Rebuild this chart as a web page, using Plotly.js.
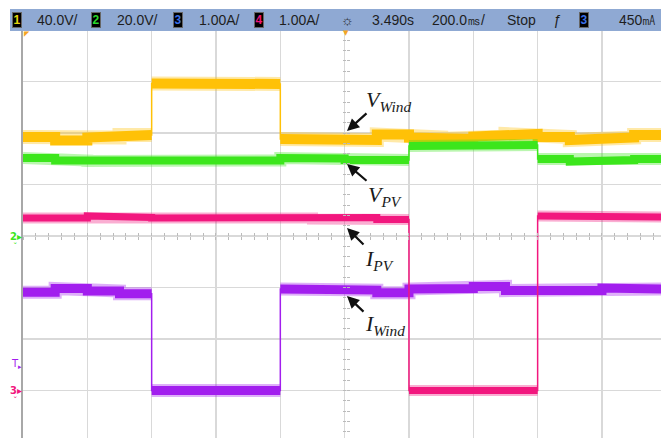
<!DOCTYPE html>
<html>
<head>
<meta charset="utf-8">
<script src="https://cdn.plot.ly/plotly-3.0.1.min.js"></script>
<style>html,body{margin:0;padding:0;background:#fff;}#plot{width:661px;height:438px;}</style>
</head>
<body>
<div id="plot"></div>
<script>
// ---- data (read from the oscilloscope screen) ----
// segment boundaries, seconds (200 ms/div, centre = 3.490 s)
const TIME_S = [2.49, 2.59, 2.69, 2.79, 2.89, 2.99, 3.09, 3.19, 3.29, 3.39, 3.49,
                3.59, 3.69, 3.79, 3.89, 3.99, 4.09, 4.19, 4.29, 4.39, 4.49];
// channel 1 : V_Wind (V)
const V_WIND = [76.9, 74.2, 76.5, 78.4, 118.4, 118.4, 118.1, 118.1, 75.3, 74.6,
                74.6, 78.8, 76.5, 75.3, 77.3, 79.2, 76.9, 74.6, 76.5, 78.4];
// channel 2 : V_PV (V)
const V_PV = [30.3, 29.3, 29.1, 29.7, 29.5, 29.5, 29.3, 29.3, 30.3, 30.1,
              29.5, 29.5, 35.0, 34.8, 35.0, 35.3, 29.9, 28.9, 29.5, 29.9];
// channel 3 : I_Wind (A)
const I_WIND = [1.91, 1.98, 1.93, 1.88, 0, 0, 0, 0, 1.97, 1.99,
                1.95, 1.90, 1.97, 1.98, 2.02, 1.94, 1.93, 1.94, 1.99, 1.97];
// channel 4 : I_PV (A)
const I_PV = [3.35, 3.35, 3.39, 3.36, 3.35, 3.35, 3.35, 3.35, 3.35, 3.33,
              3.36, 3.32, 0, 0, 0, 0, 3.39, 3.38, 3.39, 3.37];
// channel settings
const CH_SCALE = [40, 20, 1, 1];        // units per division
const CH_GROUND = [0, 0, -3, -3];       // ground level, divisions from centre
const CH_COLOR = ['#FFC107', '#3CE61C', '#A21EEE', '#F2177E'];
const CH_WIDTH = [10, 8, 9, 7];
const HEADER = ['40.0V/', '20.0V/', '1.00A/', '1.00A/', '3.490s', '200.0\u33B3/', 'Stop', '450\u3383'];

// ---- build ----
const PX = px => (px - 23) / 638;
const PY = py => (438 - py) / 408;
const series = [V_WIND, V_PV, I_WIND, I_PV];
const traces = [];
series.forEach((vals, c) => {
  const d = vals.map(v => CH_GROUND[c] + v / CH_SCALE[c]);
  // thin stepped line (transitions)
  traces.push({x: TIME_S, y: d.concat([d[d.length - 1]]), mode: 'lines',
    line: {shape: 'hv', color: CH_COLOR[c], width: 1.5}, hoverinfo: 'skip', showlegend: false});
  // thick bands
  const xs = [], ys = [];
  for (let i = 0; i < d.length; i++) {
    xs.push(TIME_S[i], TIME_S[i + 1]); ys.push(d[i], d[i]);
    if (i < d.length - 1 && Math.abs(d[i + 1] - d[i]) > 0.15) { xs.push(null); ys.push(null); }
  }
  traces.push({x: xs, y: ys, mode: 'lines', opacity: 0.35,
    line: {color: CH_COLOR[c], width: CH_WIDTH[c] + 4}, hoverinfo: 'skip', showlegend: false});
  traces.push({x: xs, y: ys, mode: 'lines',
    line: {color: CH_COLOR[c], width: CH_WIDTH[c]}, hoverinfo: 'skip', showlegend: false});
});

const XR = [2.49, 2.49 + 638 / 64.33 * 0.2];
const YR = [-(438 - 236) / 51.5, 4];
const grid = '#d9d9d9';
const tickAx = (extra) => Object.assign({showgrid: false, zeroline: false, showline: false,
  showticklabels: false, ticklen: 3, tickwidth: 1, tickcolor: '#bbbbbb', fixedrange: true}, extra);

const ann = [];
// header
const txt = (x, s, anchor) => ann.push({xref: 'paper', yref: 'paper', x: PX(x), y: PY(20), text: s,
  showarrow: false, xanchor: anchor || 'left', yanchor: 'middle',
  font: {family: 'Liberation Sans, Arial', size: 14, color: '#1e1e1e'}});
const badge = (x, s, col) => ann.push({xref: 'paper', yref: 'paper', x: PX(x), y: PY(20), text: '<b>' + s + '</b>',
  showarrow: false, xanchor: 'center', yanchor: 'middle', bgcolor: '#000', bordercolor: '#666', borderwidth: 1,
  borderpad: 0, width: 8, height: 14, font: {family: 'Liberation Sans, Arial', size: 12, color: col}});
badge(16.5, '1', '#E6D60E'); txt(35, HEADER[0]);
badge(96, '2', '#2BD92B'); txt(115, HEADER[1]);
badge(177.5, '3', '#3B6FE6'); txt(197, HEADER[2]);
badge(259, '4', '#EE1679'); txt(277, HEADER[3]);
txt(347, '\u263C', 'center');
txt(370, HEADER[4]); txt(430, HEADER[5]); txt(505, HEADER[6]);
txt(557, '<i>\u0192</i>', 'center');
badge(584, '3', '#3B6FE6'); txt(617, HEADER[7]);

// left side markers
const mk = (x, y, s, col, sz) => ann.push({xref: 'paper', yref: 'paper', x: PX(x), y: PY(y), text: s,
  showarrow: false, xanchor: 'center', yanchor: 'middle', font: {family: 'DejaVu Sans', size: sz || 10, color: col}});
mk(16, 236, '<b>2</b>\u25B8', '#3CE61C', 10);
mk(15, 247, '\u02C7', '#3CE61C', 9);
mk(16, 364, 'T<sub>\u25B8</sub>', '#A21EEE', 10);
mk(16, 390, '<b>3</b>\u25B8', '#F2177E', 10);
mk(15, 401, '\u02C7', '#F2177E', 9);
mk(27, 34, '\u25E4', '#F5A623', 7);
mk(346, 33, '\u25BC', '#F5A623', 7);

// labels
const lab = (x, y, s) => ann.push({xref: 'paper', yref: 'paper', x: PX(x), y: PY(y), text: s,
  showarrow: false, xanchor: 'left', yanchor: 'middle',
  font: {family: 'Liberation Serif, Times New Roman', size: 22, color: '#1a1a1a'}});
lab(364, 101, '<i>V</i><sub><i>Wind</i></sub>');
lab(366, 196, '<i>V</i><sub><i>PV</i></sub>');
lab(363, 260, '<i>I</i><sub><i>PV</i></sub>');
lab(363, 325, '<i>I</i><sub><i>Wind</i></sub>');
// arrows
const arr = (px, py, ax, ay) => ann.push({xref: 'x', yref: 'y', x: 2.49 + (px - 23) / 64.33 * 0.2,
  y: (236 - py) / 51.5, ax: ax, ay: ay, text: '', showarrow: true, arrowhead: 2, arrowsize: 1.1,
  arrowwidth: 2.2, arrowcolor: '#111', standoff: 0});
arr(347, 131, 21, -19);
arr(347, 164, 21, 18);
arr(347, 228, 18, 18);
arr(347, 296, 18, 17);

const layout = {
  width: 661, height: 438,
  margin: {l: 23, r: 0, t: 30, b: 0, pad: 0},
  paper_bgcolor: '#fff', plot_bgcolor: '#fff', showlegend: false,
  xaxis: {range: XR, tick0: 2.49, dtick: 0.2, showgrid: true, gridcolor: grid, gridwidth: 1.6,
    zeroline: false, showline: false, showticklabels: false, ticks: '', fixedrange: true},
  yaxis: {range: YR, tick0: 0, dtick: 1, showgrid: true, gridcolor: grid, gridwidth: 1.6,
    zeroline: false, showline: true, linecolor: '#a8a8a8', linewidth: 2, showticklabels: false, ticks: '', fixedrange: true},
  xaxis2: tickAx({overlaying: 'x', anchor: 'free', position: PY(236), range: XR, tick0: 2.49, dtick: 0.04, ticks: 'inside'}),
  xaxis3: tickAx({overlaying: 'x', anchor: 'free', position: PY(236), range: XR, tick0: 2.49, dtick: 0.04, ticks: 'outside'}),
  yaxis2: tickAx({overlaying: 'y', anchor: 'free', position: PX(346), range: YR, tick0: 0, dtick: 0.2, ticks: 'inside'}),
  yaxis3: tickAx({overlaying: 'y', anchor: 'free', position: PX(346), range: YR, tick0: 0, dtick: 0.2, ticks: 'outside'}),
  shapes: [{type: 'rect', xref: 'paper', yref: 'paper', x0: PX(10), x1: PX(661), y0: PY(31), y1: PY(9),
    fillcolor: '#8FA9D3', line: {width: 0}, layer: 'above'}],
  annotations: ann
};
traces.push({x: [], y: [], xaxis: 'x2', yaxis: 'y2', mode: 'lines', showlegend: false});
traces.push({x: [], y: [], xaxis: 'x3', yaxis: 'y3', mode: 'lines', showlegend: false});
Plotly.newPlot('plot', traces, layout, {staticPlot: true, displayModeBar: false});
</script>
</body>
</html>
